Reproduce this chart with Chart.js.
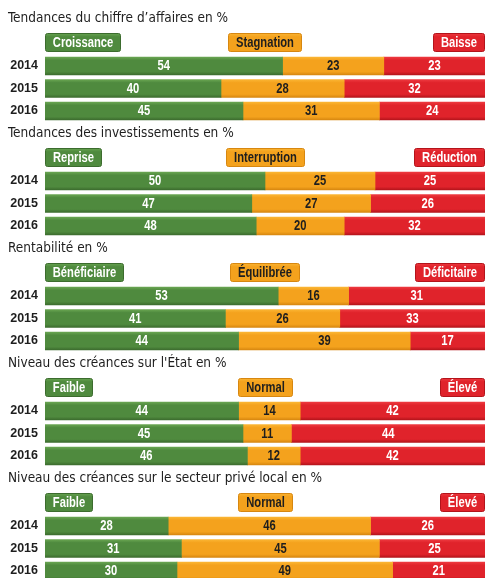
<!DOCTYPE html>
<html>
<head>
<meta charset="utf-8">
<script src="https://cdn.jsdelivr.net/npm/chart.js@4.4.1/dist/chart.umd.min.js"></script>
<style>
  body { margin: 0; background: #fff; width: 486px; height: 578px; overflow: hidden; position: relative; }
  canvas { position: absolute; left: 0; }
</style>
</head>
<body>
<canvas id="c0" width="486" height="115" style="top:8px"></canvas>
<canvas id="c1" width="486" height="115" style="top:123px"></canvas>
<canvas id="c2" width="486" height="115" style="top:238px"></canvas>
<canvas id="c3" width="486" height="115" style="top:353px"></canvas>
<canvas id="c4" width="486" height="115" style="top:468px"></canvas>
<script>
// data
const years = ["2014", "2015", "2016"];

const titles = [
  "Tendances du chiffre d’affaires en %",
  "Tendances des investissements en %",
  "Rentabilité en %",
  "Niveau des créances sur l'État en %",
  "Niveau des créances sur le secteur privé local en %"
];

const labelsCA = ["Croissance", "Stagnation", "Baisse"];
const croissance = [54, 40, 45];
const stagnation = [23, 28, 31];
const baisse = [23, 32, 24];

const labelsInv = ["Reprise", "Interruption", "Réduction"];
const reprise = [50, 47, 48];
const interruption = [25, 27, 20];
const reduction = [25, 26, 32];

const labelsRent = ["Bénéficiaire", "Équilibrée", "Déficitaire"];
const beneficiaire = [53, 41, 44];
const equilibree = [16, 26, 39];
const deficitaire = [31, 33, 17];

const labelsEtat = ["Faible", "Normal", "Élevé"];
const etatFaible = [44, 45, 46];
const etatNormal = [14, 11, 12];
const etatEleve = [42, 44, 42];

const labelsPrive = ["Faible", "Normal", "Élevé"];
const priveFaible = [28, 31, 30];
const priveNormal = [46, 45, 49];
const priveEleve = [26, 25, 21];

const panels = [
  { labels: labelsCA, series: [croissance, stagnation, baisse] },
  { labels: labelsInv, series: [reprise, interruption, reduction] },
  { labels: labelsRent, series: [beneficiaire, equilibree, deficitaire] },
  { labels: labelsEtat, series: [etatFaible, etatNormal, etatEleve] },
  { labels: labelsPrive, series: [priveFaible, priveNormal, priveEleve] }
];

const TITLE_FONT = "'DejaVu Sans Condensed', 'Liberation Sans', sans-serif";
const FONT = "'Liberation Sans', Arial, sans-serif";
const SQUEEZE = 0.8; // condensed look for box and value text

// green / orange / red, each with light top, base, dark bottom
const palette = [
  { light: "#6aa652", base: "#4f8a3e", dark: "#3c6c2e", text: "#ffffff" },
  { light: "#fbb634", base: "#f4a21d", dark: "#d78710", text: "#1e1e1e" },
  { light: "#ee3a40", base: "#e0232b", dark: "#b4141b", text: "#ffffff" }
];

function barFill(i) {
  return function (c) {
    const chart = c.chart;
    const sy = chart.scales && chart.scales.y;
    if (!sy || c.dataIndex === undefined) return palette[i].base;
    const yc = sy.getPixelForValue(c.dataIndex);
    if (!isFinite(yc)) return palette[i].base;
    const g = chart.ctx.createLinearGradient(0, yc - 9, 0, yc + 9);
    g.addColorStop(0, palette[i].light);
    g.addColorStop(0.18, palette[i].base);
    g.addColorStop(0.82, palette[i].base);
    g.addColorStop(1, palette[i].dark);
    return g;
  };
}

function squeezedText(ctx, txt, cx, cy) {
  ctx.save();
  ctx.translate(cx, cy);
  ctx.scale(SQUEEZE, 1);
  ctx.fillText(txt, 0, 0);
  ctx.restore();
}

// boxes above the bars naming each series
const legendBoxes = {
  id: "legendBoxes",
  afterDraw(chart) {
    const { ctx, chartArea } = chart;
    const n = chart.data.datasets.length;
    ctx.save();
    ctx.font = "bold 14px " + FONT;
    ctx.textBaseline = "middle";
    ctx.textAlign = "center";
    chart.data.datasets.forEach((ds, i) => {
      const w = Math.round(ctx.measureText(ds.label).width * SQUEEZE + 16);
      let x;
      if (i === 0) x = chartArea.left;
      else if (i === n - 1) x = chartArea.right - w;
      else x = Math.round((chartArea.left + chartArea.right) / 2 - w / 2);
      const y = 25, h = 19;
      const g = ctx.createLinearGradient(0, y, 0, y + h);
      g.addColorStop(0, palette[i].light);
      g.addColorStop(0.2, palette[i].base);
      g.addColorStop(1, palette[i].base);
      ctx.fillStyle = g;
      ctx.beginPath();
      ctx.roundRect(x + 0.5, y + 0.5, w - 1, h - 1, 2);
      ctx.fill();
      ctx.strokeStyle = palette[i].dark;
      ctx.lineWidth = 1;
      ctx.stroke();
      ctx.fillStyle = palette[i].text;
      squeezedText(ctx, ds.label, x + w / 2, y + h / 2 + 0.5);
    });
    ctx.restore();
  }
};

// numbers inside each segment
const valueLabels = {
  id: "valueLabels",
  afterDatasetsDraw(chart) {
    const ctx = chart.ctx;
    ctx.save();
    ctx.font = "bold 14px " + FONT;
    ctx.textAlign = "center";
    ctx.textBaseline = "middle";
    chart.data.datasets.forEach((ds, i) => {
      const meta = chart.getDatasetMeta(i);
      ctx.fillStyle = palette[i].text;
      meta.data.forEach((bar, j) => {
        const p = bar.getProps(["x", "y", "base"], true);
        squeezedText(ctx, String(ds.data[j]), (p.x + p.base) / 2, p.y + 0.5);
      });
    });
    ctx.restore();
  }
};

panels.forEach((p, k) => {
  new Chart(document.getElementById("c" + k), {
    type: "bar",
    data: {
      labels: years,
      datasets: p.series.map((vals, i) => ({
        label: p.labels[i],
        data: vals,
        backgroundColor: barFill(i),
        borderWidth: 0,
        barThickness: 18
      }))
    },
    options: {
      indexAxis: "y",
      responsive: false,
      animation: false,
      layout: { padding: { left: 8, right: 1, top: 0, bottom: 0.75 } },
      plugins: {
        legend: { display: false },
        tooltip: { enabled: false },
        title: {
          display: true,
          text: titles[k],
          align: "start",
          color: "#1e1e1e",
          font: { family: TITLE_FONT, size: 13.5, weight: "normal" },
          padding: { top: 2, bottom: 28.5 }
        }
      },
      scales: {
        x: { stacked: true, display: false, min: 0, max: 100 },
        y: {
          stacked: true,
          grid: { display: false, drawTicks: false },
          border: { display: false },
          ticks: { color: "#1e1e1e", padding: 7, font: { family: FONT, size: 12.5, weight: "bold" } },
          afterFit(scale) {
            scale.width = 37;
            scale.paddingTop = 0;
            scale.paddingBottom = 0;
          }
        }
      }
    },
    plugins: [legendBoxes, valueLabels]
  });
});
</script>
</body>
</html>
